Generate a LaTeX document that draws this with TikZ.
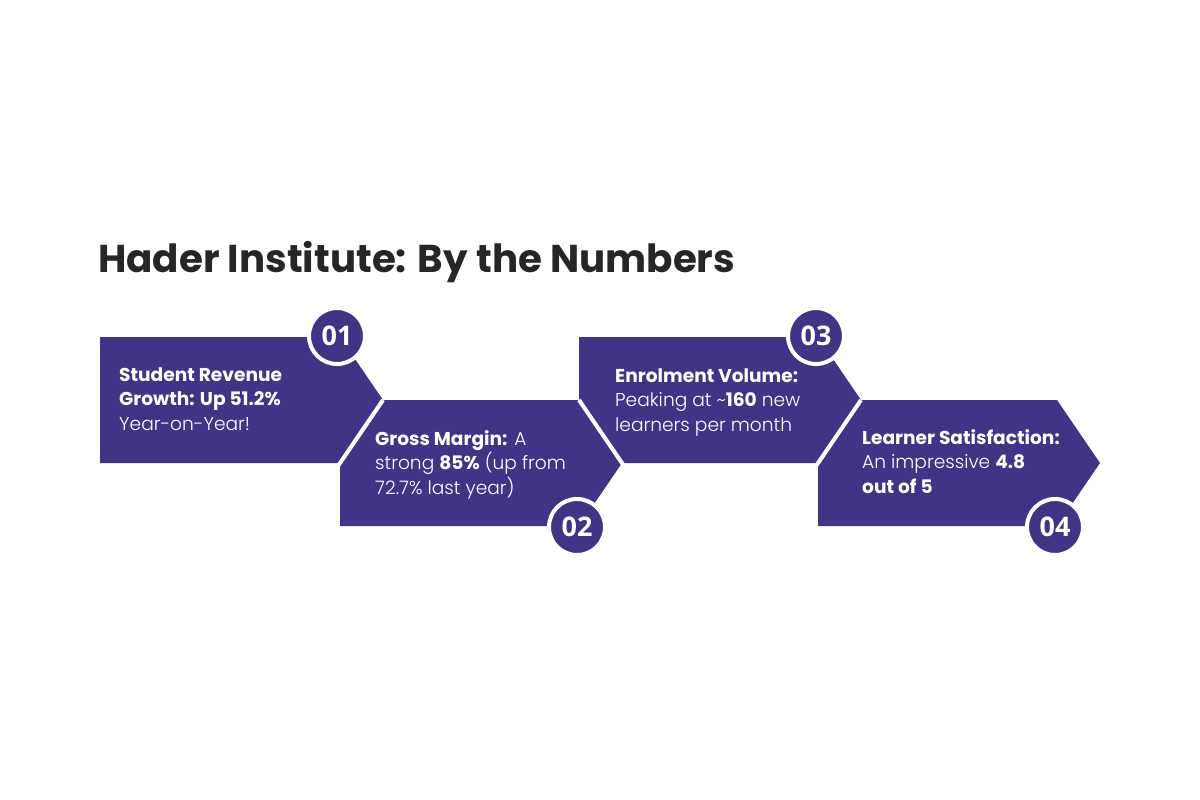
\documentclass[tikz,border=0pt]{standalone}
\usepackage{fontspec}
\setmainfont{Poppins}[UprightFont={* Light}, BoldFont={* Bold}]
\newfontfamily\titlefont{Poppins}[UprightFont={* Bold}]
\newfontfamily\numfont{Open Sans}
\definecolor{hpurple}{HTML}{433386}
\definecolor{htitle}{HTML}{262626}
\tikzset{
  panel/.style={fill=hpurple, draw=none},
  cutline/.style={draw=white, line width=4pt},
  badge/.style={circle, fill=hpurple, draw=white, line width=4pt, minimum size=56pt, inner sep=0pt,
     text=white, font=\numfont\bfseries\fontsize{27}{27}\selectfont},
  body/.style={anchor=base west, inner sep=0pt, text=white,
     font=\fontsize{18.6}{24.5}\selectfont},
}
\newcommand{\blocktext}[1]{\parbox[t]{240pt}{\raggedright #1}}
\begin{document}
\begin{tikzpicture}[x=1pt,y=-1pt]
\useasboundingbox (0,0) rectangle (1200,800);
\fill[white] (0,0) rectangle (1200,800);
% title
\node[anchor=base west, inner sep=0pt, text=htitle, font=\titlefont\fontsize{38.8}{40}\selectfont] (title) at (98,272) {Hader Institute: By the Numbers};
% panels
\path[panel] (100,337) -- (340,337) -- (383,400) -- (340,463) -- (100,463) -- cycle;
\path[panel] (340,526) -- (340,463) -- (383,400) -- (579,400) -- (622,463) -- (579,526) -- cycle;
\path[panel] (579,337) -- (818,337) -- (861,400) -- (818,463) -- (622,463) -- (579,400) -- cycle;
\path[panel] (818,526) -- (818,463) -- (861,400) -- (1057,400) -- (1100,463) -- (1057,526) -- cycle;
% white separations
\draw[cutline] (336,469) -- (383,400);
\draw[cutline] (579,400) -- (624,466);
\draw[cutline] (814,469) -- (861,400);
% badges
\node[badge] (b1) at (337,336) {01};
\node[badge] (b2) at (577,527) {02};
\node[badge] (b3) at (816,336) {03};
\node[badge] (b4) at (1055,527) {04};
% texts
\node[body] (t1) at (119,381) {\blocktext{\textbf{Student Revenue}\\\textbf{Growth: Up 51.2\%}\\Year-on-Year!}};
\node[body] (t2) at (375,445) {\blocktext{\textbf{Gross Margin:} A\\strong \textbf{85\%} (up from\\72.7\% last year)}};
\node[body] (t3) at (615,382) {\blocktext{\textbf{Enrolment Volume:}\\Peaking at \textasciitilde\textbf{160} new\\learners per month}};
\node[body] (t4) at (862,444) {\blocktext{\textbf{Learner Satisfaction:}\\An impressive \textbf{4.8}\\\textbf{out of 5}}};
\end{tikzpicture}
\end{document}
